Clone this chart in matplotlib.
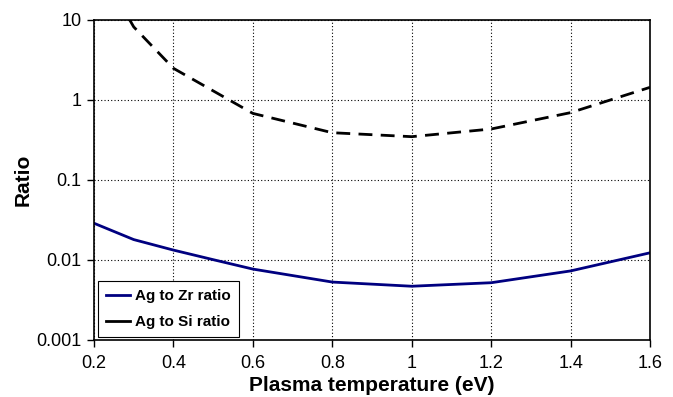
import matplotlib.pyplot as plt
from matplotlib.ticker import FixedLocator, FixedFormatter, NullLocator

plt.rcParams['font.family'] = ['Liberation Sans', 'DejaVu Sans']

# plasma temperature (eV)
temps = [0.2, 0.3, 0.4, 0.5, 0.6, 0.8, 1.0, 1.2, 1.4, 1.6]
zr_ratio = [0.0288, 0.018, 0.0133, 0.0101, 0.0077, 0.0053, 0.0047, 0.0052, 0.0073, 0.0123]

si_temps = [0.2, 0.3, 0.4, 0.6, 0.8, 1.0, 1.2, 1.4, 1.6]
si_ratio = [60, 8.2, 2.49, 0.68, 0.39, 0.348, 0.434, 0.695, 1.44]

xticks = [0.2, 0.4, 0.6, 0.8, 1.0, 1.2, 1.4, 1.6]
xlabels = ['0.2', '0.4', '0.6', '0.8', '1', '1.2', '1.4', '1.6']
yticks = [0.001, 0.01, 0.1, 1, 10]
ylabels = ['0.001', '0.01', '0.1', '1', '10']

fig = plt.figure(figsize=(6.73, 3.97), dpi=100)
ax = fig.add_axes([94 / 673, 1 - 340 / 397, 556 / 673, 320 / 397])

ax.plot(temps, zr_ratio, color='#000080', lw=2, label='Ag to Zr ratio')
ax.plot(si_temps, si_ratio, color='black', lw=2, dashes=(5, 3), label='Ag to Si ratio')

ax.set_yscale('log')
ax.set_xlim(0.2, 1.6)
ax.set_ylim(0.001, 10)
ax.xaxis.set_major_locator(FixedLocator(xticks))
ax.xaxis.set_major_formatter(FixedFormatter(xlabels))
ax.yaxis.set_major_locator(FixedLocator(yticks))
ax.yaxis.set_major_formatter(FixedFormatter(ylabels))
ax.yaxis.set_minor_locator(NullLocator())

ax.grid(True, color='black', linestyle=(0, (1, 2)), linewidth=0.8)
ax.tick_params(direction='out', length=5, width=1, labelsize=13, pad=4)
ax.tick_params(axis='x', pad=6)
for s in ax.spines.values():
    s.set_linewidth(1.2)

ax.set_xlabel('Plasma temperature (eV)', fontsize=15, fontweight='bold', labelpad=3)
ax.set_ylabel('Ratio', fontsize=15, fontweight='bold')
ax.yaxis.set_label_coords(-0.11, 0.5)

leg = ax.legend(loc='lower left', bbox_to_anchor=(0.007, 0.01), borderaxespad=0,
                prop={'weight': 'bold', 'size': 11}, fancybox=False,
                edgecolor='black', framealpha=1, handlelength=1.6,
                handletextpad=0.35, labelspacing=0.8, borderpad=0.5)
leg.get_frame().set_linewidth(0.8)
# the reference legend shows the dashed series as a single solid stroke
leg.get_lines()[1].set_linestyle('-')

fig.savefig('out.png', dpi=100)
